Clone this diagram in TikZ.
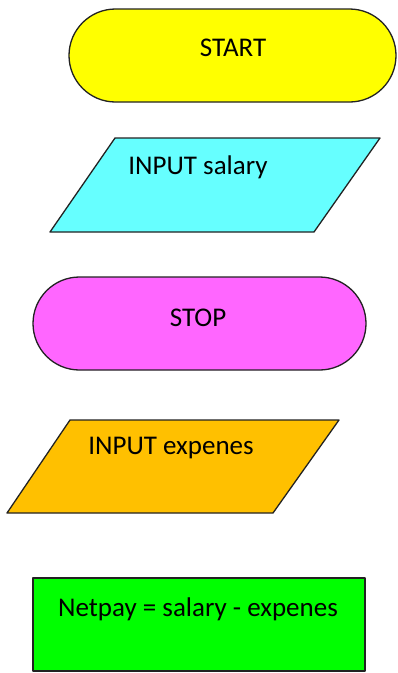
\documentclass[tikz,border=0pt]{standalone}
\usepackage{fontspec}
\setmainfont{Carlito}
\usepackage{xcolor}
\usetikzlibrary{calc, positioning}
\definecolor{startyellow}{HTML}{FFFF00}
\definecolor{inputcyan}{HTML}{66FFFF}
\definecolor{stopmagenta}{HTML}{FF66FF}
\definecolor{inputorange}{HTML}{FFC000}
\definecolor{procgreen}{HTML}{00FF00}
\definecolor{edgegray}{HTML}{222222}
\tikzset{
  % outline of every flowchart shape
  shapeline/.style={
    draw=edgegray
    , line width=1.3pt
    , line join=round
  },
}
\tikzset{
  % text inside a shape
  shapetext/.style={
    text=black
    , anchor=center
    , inner sep=0pt
    , font=\fontsize{27}{30}\selectfont
  },
}
\begin{document}
\begin{tikzpicture}[x=1pt, y=-1pt]
  \useasboundingbox (0,0) rectangle (398,673);
  % terminal: start
  \draw[shapeline, fill=startyellow, rounded corners=46.5pt]
    (69,9) rectangle (396,102);
  \node[shapetext] (start) at (233,48) {START};
  % input: salary
  \draw[shapeline, fill=inputcyan]
    (115,138) -- (380,138) -- (314,232) -- (50,232) -- cycle;
  \node[shapetext] (insalary) at (198,167) {INPUT salary};
  % terminal: stop
  \draw[shapeline, fill=stopmagenta, rounded corners=46.5pt]
    (33,277) rectangle (366,370);
  \node[shapetext] (stop) at (198,318) {STOP};
  % input: expenes
  \draw[shapeline, fill=inputorange]
    (70,420) -- (339,420) -- (273,513) -- (7,513) -- cycle;
  \node[shapetext] (inexpenes) at (171,448) {INPUT expenes};
  % process: netpay
  \draw[shapeline, fill=procgreen]
    (33,578) rectangle (365,671);
  \node[shapetext] (netpay) at (198,609) {Netpay = salary - expenes};
\end{tikzpicture}
\end{document}
